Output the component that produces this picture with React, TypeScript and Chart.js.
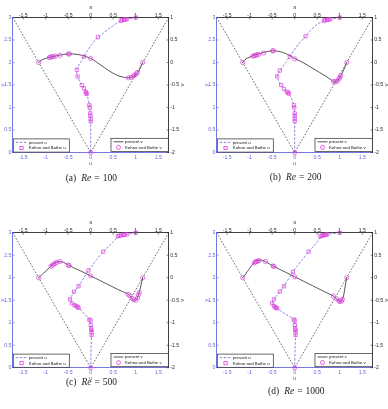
import React, { useEffect, useRef } from 'react';
import { Chart, registerables } from 'chart.js';

Chart.register(...registerables);

const SQ3 = Math.sqrt(3);

// Cavity walls: apex at the origin, lid at y = 3
const wallX = [-SQ3, 0, SQ3];
const wallY = [3, 0, 3];

const xTicks = [-1.5, -1, -0.5, 0, 0.5, 1, 1.5];
const yTicks = [0, 0.5, 1, 1.5, 2, 2.5, 3];
const vTicks = [-2, -1.5, -1, -0.5, 0, 0.5, 1];

// ---- Re = 100 ----
const u100Y = [3.0, 2.95, 2.9, 2.77, 2.65, 2.56, 2.4, 2.25, 2.13, 2.0, 1.84, 1.69, 1.5, 1.43, 1.33, 1.2, 1.05, 0.87, 0.7, 0.4, 0];
const u100 = [1.0, 0.75, 0.62, 0.43, 0.28, 0.16, 0.02, -0.08, -0.15, -0.23, -0.31, -0.29, -0.2, -0.15, -0.1, -0.06, -0.03, -0.01, 0, 0, 0];
const kbU100Y = [3.0, 2.96, 2.955, 2.95, 2.94, 2.93, 2.56, 2.13, 1.84, 1.69, 1.5, 1.43, 1.35, 1.32, 1.3, 1.05, 1.0, 0.87, 0.82, 0.75, 0.69, 0];
const kbU100 = [1.0, 0.8, 0.77, 0.74, 0.7, 0.67, 0.16, -0.15, -0.31, -0.29, -0.2, -0.15, -0.11, -0.1, -0.09, -0.03, -0.02, -0.01, -0.01, 0, 0, 0];
const v100X = [-1.155, -1.1, -1.0, -0.9, -0.8, -0.7, -0.6, -0.5, -0.4, -0.3, -0.2, -0.1, 0, 0.1, 0.2, 0.3, 0.4, 0.5, 0.6, 0.7, 0.8, 0.9, 1.0, 1.05, 1.1, 1.155];
const v100 = [0, 0.05, 0.09, 0.12, 0.14, 0.16, 0.18, 0.19, 0.19, 0.18, 0.16, 0.13, 0.09, 0.03, -0.04, -0.11, -0.18, -0.24, -0.29, -0.32, -0.34, -0.33, -0.27, -0.21, -0.13, 0];
const kbV100X = [-1.155, -0.92, -0.89, -0.86, -0.83, -0.78, -0.68, -0.5, -0.47, 0, 0.84, 0.9, 0.95, 0.98, 1.01, 1.04, 1.155];
const kbV100 = [0, 0.11, 0.12, 0.13, 0.13, 0.14, 0.16, 0.19, 0.19, 0.09, -0.34, -0.33, -0.3, -0.28, -0.25, -0.22, 0];

// ---- Re = 200 ----
const u200Y = [3.0, 2.96, 2.93, 2.85, 2.72, 2.58, 2.4, 2.25, 2.13, 2.0, 1.82, 1.69, 1.58, 1.5, 1.41, 1.33, 1.2, 1.05, 0.87, 0.7, 0.4, 0];
const u200 = [1.0, 0.79, 0.65, 0.5, 0.36, 0.24, 0.08, -0.03, -0.11, -0.2, -0.33, -0.39, -0.35, -0.3, -0.24, -0.16, -0.07, -0.02, 0, 0, 0, 0];
const kbU200Y = [3.0, 2.96, 2.955, 2.95, 2.94, 2.93, 2.58, 2.13, 1.82, 1.69, 1.5, 1.41, 1.35, 1.33, 1.31, 1.05, 1.0, 0.87, 0.82, 0.75, 0.69, 0];
const kbU200 = [1.0, 0.79, 0.75, 0.72, 0.68, 0.65, 0.24, -0.11, -0.33, -0.39, -0.3, -0.24, -0.17, -0.15, -0.13, -0.02, -0.01, 0, 0, 0, 0, 0];
const v200X = [-1.155, -1.1, -1.0, -0.9, -0.8, -0.7, -0.6, -0.5, -0.4, -0.3, -0.2, -0.1, 0, 0.1, 0.2, 0.3, 0.4, 0.5, 0.6, 0.7, 0.8, 0.88, 0.95, 1.0, 1.05, 1.1, 1.155];
const v200 = [0, 0.07, 0.12, 0.16, 0.19, 0.22, 0.245, 0.26, 0.255, 0.235, 0.2, 0.15, 0.09, 0.04, -0.01, -0.07, -0.13, -0.19, -0.25, -0.31, -0.38, -0.43, -0.41, -0.33, -0.24, -0.14, 0];
const kbV200X = [-1.155, -0.93, -0.9, -0.87, -0.84, -0.8, -0.69, -0.49, -0.47, 0, 0.86, 0.9, 0.94, 0.98, 1.0, 1.02, 1.155];
const kbV200 = [0, 0.14, 0.15, 0.16, 0.17, 0.18, 0.21, 0.26, 0.26, 0.08, -0.42, -0.43, -0.42, -0.37, -0.33, -0.29, 0];

// ---- Re = 500 ----
const u500Y = [3.0, 2.96, 2.92, 2.8, 2.7, 2.58, 2.4, 2.25, 2.16, 2.0, 1.81, 1.69, 1.6, 1.52, 1.43, 1.37, 1.33, 1.2, 1.07, 0.95, 0.84, 0.73, 0.5, 0];
const u500 = [1.0, 0.8, 0.64, 0.5, 0.4, 0.28, 0.13, 0.02, -0.05, -0.15, -0.27, -0.37, -0.42, -0.46, -0.42, -0.32, -0.27, -0.14, -0.03, 0, 0.015, 0.02, 0.01, 0];
const kbU500Y = [3.0, 2.96, 2.955, 2.95, 2.94, 2.93, 2.92, 2.58, 2.16, 1.81, 1.69, 1.52, 1.43, 1.39, 1.37, 1.35, 1.33, 1.07, 1.05, 0.95, 0.88, 0.84, 0.79, 0.73, 0];
const kbU500 = [1.0, 0.8, 0.75, 0.72, 0.67, 0.63, 0.6, 0.28, -0.05, -0.27, -0.37, -0.46, -0.42, -0.36, -0.32, -0.29, -0.27, -0.03, 0, 0, 0.01, 0.015, 0.02, 0.02, 0];
const v500X = [-1.155, -1.1, -1.0, -0.9, -0.8, -0.7, -0.6, -0.5, -0.4, -0.2, 0, 0.2, 0.4, 0.6, 0.8, 0.87, 0.92, 0.97, 1.02, 1.06, 1.1, 1.155];
const v500 = [0, 0.05, 0.145, 0.24, 0.32, 0.36, 0.34, 0.285, 0.23, 0.14, 0.04, -0.06, -0.16, -0.26, -0.35, -0.4, -0.47, -0.5, -0.48, -0.38, -0.24, 0];
const kbV500X = [-1.155, -0.88, -0.85, -0.82, -0.79, -0.75, -0.68, -0.5, -0.48, 0, 0.83, 0.87, 0.92, 0.96, 1.0, 1.04, 1.06, 1.08, 1.155];
const kbV500 = [0, 0.25, 0.28, 0.3, 0.32, 0.34, 0.36, 0.28, 0.27, 0.04, -0.37, -0.4, -0.46, -0.49, -0.5, -0.45, -0.38, -0.33, 0];

// ---- Re = 1000 ----
const u1000Y = [3.0, 2.96, 2.92, 2.8, 2.7, 2.58, 2.4, 2.25, 2.13, 2.0, 1.81, 1.69, 1.6, 1.52, 1.43, 1.37, 1.32, 1.2, 1.07, 0.95, 0.84, 0.73, 0.5, 0];
const u1000 = [1.0, 0.72, 0.6, 0.5, 0.42, 0.31, 0.17, 0.05, -0.04, -0.12, -0.24, -0.33, -0.4, -0.46, -0.5, -0.46, -0.39, -0.22, -0.02, 0.005, 0.015, 0.02, 0.01, 0];
const kbU1000Y = [3.0, 2.96, 2.955, 2.95, 2.94, 2.93, 2.92, 2.58, 2.13, 1.81, 1.69, 1.52, 1.43, 1.37, 1.34, 1.33, 1.32, 1.07, 1.05, 0.95, 0.88, 0.84, 0.79, 0.73, 0];
const kbU1000 = [1.0, 0.72, 0.69, 0.66, 0.62, 0.6, 0.57, 0.31, -0.04, -0.24, -0.33, -0.46, -0.5, -0.46, -0.43, -0.41, -0.39, -0.02, 0, 0.005, 0.01, 0.015, 0.02, 0.02, 0];
const v1000X = [-1.155, -1.1, -1.0, -0.95, -0.9, -0.85, -0.77, -0.7, -0.6, -0.48, -0.2, 0, 0.2, 0.4, 0.6, 0.86, 0.92, 0.97, 1.01, 1.05, 1.09, 1.12, 1.155];
const v1000 = [0, 0.07, 0.21, 0.28, 0.33, 0.37, 0.39, 0.38, 0.33, 0.26, 0.12, 0.02, -0.08, -0.18, -0.28, -0.41, -0.47, -0.51, -0.53, -0.5, -0.38, -0.2, 0];
const kbV1000X = [-1.155, -0.9, -0.87, -0.85, -0.82, -0.79, -0.65, -0.48, -0.46, 0, 0.86, 0.93, 0.98, 1.01, 1.04, 1.06, 1.155];
const kbV1000 = [0, 0.33, 0.35, 0.36, 0.37, 0.38, 0.36, 0.26, 0.25, 0.02, -0.41, -0.47, -0.51, -0.53, -0.52, -0.48, 0];

const BLUE = '#6868dc';
const MAGENTA = '#e03ae0';
const DARK = '#2a2a2a';
const SANS = '"Liberation Sans", Arial, sans-serif';
const SERIF = '"Liberation Serif", "Times New Roman", serif';

const W = 184;
const H = 178;
const PLOT_W = 156;
const PLOT_H = 135;

type Spec = {
  tag: string;
  re: string;
  uY: number[]; u: number[];
  kbUY: number[]; kbU: number[];
  vX: number[]; v: number[];
  kbVX: number[]; kbV: number[];
  left: number; top: number;
  padLeft: number; padTop: number;
  capX: number; capY: number;
};

const panels: Spec[] = [
  { tag: 'a', re: '100', uY: u100Y, u: u100, kbUY: kbU100Y, kbU: kbU100, vX: v100X, v: v100, kbVX: kbV100X, kbV: kbV100,
    left: 0, top: 0, padLeft: 12.7, padTop: 17.5, capX: 91.3, capY: 179 },
  { tag: 'b', re: '200', uY: u200Y, u: u200, kbUY: kbU200Y, kbU: kbU200, vX: v200X, v: v200, kbVX: kbV200X, kbV: kbV200,
    left: 204, top: 0, padLeft: 12.7, padTop: 17.5, capX: 295.7, capY: 177.7 },
  { tag: 'c', re: '500', uY: u500Y, u: u500, kbUY: kbU500Y, kbU: kbU500, vX: v500X, v: v500, kbVX: kbV500X, kbV: kbV500,
    left: 0, top: 215, padLeft: 12.7, padTop: 17.7, capX: 91.5, capY: 382.7 },
  { tag: 'd', re: '1000', uY: u1000Y, u: u1000, kbUY: kbU1000Y, kbU: kbU1000, vX: v1000X, v: v1000, kbVX: kbV1000X, kbV: kbV1000,
    left: 204, top: 215, padLeft: 12.7, padTop: 17.7, capX: 296.3, capY: 392.3 },
];

const pts = (xs: number[], ys: number[]) => xs.map((x, i) => ({ x, y: ys[i] }));

function drawLegend(ctx: CanvasRenderingContext2D, x: number, y: number, w: number, h: number,
  rows: { kind: string; color: string; text: string }[], sampleX: number, textX: number) {
  ctx.save();
  ctx.fillStyle = '#ffffff';
  ctx.fillRect(x, y, w, h);
  ctx.strokeStyle = DARK;
  ctx.lineWidth = 0.7;
  ctx.setLineDash([]);
  ctx.strokeRect(x, y, w, h);
  ctx.font = `4.3px ${SANS}`;
  ctx.textBaseline = 'middle';
  ctx.textAlign = 'left';
  rows.forEach((r, i) => {
    const cy = y + 3.5 + i * 5.6;
    ctx.strokeStyle = r.color;
    ctx.lineWidth = 0.8;
    if (r.kind === 'dash' || r.kind === 'solid') {
      ctx.setLineDash(r.kind === 'dash' ? [2.5, 1.5] : []);
      ctx.beginPath();
      ctx.moveTo(x + sampleX, cy);
      ctx.lineTo(x + textX - 1.5, cy);
      ctx.stroke();
      ctx.setLineDash([]);
    } else if (r.kind === 'rect') {
      const cx = (x + sampleX + x + textX - 1.5) / 2;
      ctx.strokeRect(cx - 1.6, cy - 1.6, 3.2, 3.2);
    } else {
      const cx = (x + sampleX + x + textX - 1.5) / 2;
      ctx.beginPath();
      ctx.arc(cx, cy, 2, 0, Math.PI * 2);
      ctx.stroke();
    }
    ctx.fillStyle = '#111';
    ctx.fillText(r.text, x + textX, cy + 0.2);
  });
  ctx.restore();
}

const decor = {
  id: 'decor',
  afterDraw(chart: any) {
    const { ctx, chartArea: ca, scales } = chart;
    const ds = chart.data.datasets;
    ctx.save();
    // inward tick marks
    const tick = (scale: any, vals: number[], side: string, color: string) => {
      ctx.strokeStyle = color;
      ctx.lineWidth = 0.6;
      vals.forEach((val) => {
        const p = scale.getPixelForValue(val);
        ctx.beginPath();
        if (side === 'bottom') { ctx.moveTo(p, ca.bottom); ctx.lineTo(p, ca.bottom - 2); }
        if (side === 'top') { ctx.moveTo(p, ca.top); ctx.lineTo(p, ca.top + 2); }
        if (side === 'left') { ctx.moveTo(ca.left, p); ctx.lineTo(ca.left + 2, p); }
        if (side === 'right') { ctx.moveTo(ca.right, p); ctx.lineTo(ca.right - 2, p); }
        ctx.stroke();
      });
    };
    tick(scales.x, xTicks, 'bottom', BLUE);
    tick(scales.x2, xTicks, 'top', DARK);
    tick(scales.y, yTicks, 'left', BLUE);
    tick(scales.v, vTicks, 'right', DARK);

    // axis titles
    const midX = (ca.left + ca.right) / 2;
    const midY = (ca.top + ca.bottom) / 2;
    ctx.font = `6px ${SANS}`;
    ctx.textAlign = 'center';
    ctx.textBaseline = 'middle';
    ctx.fillStyle = DARK;
    ctx.fillText('x', midX, ca.top - 10.2);
    ctx.fillStyle = BLUE;
    ctx.fillText('u', midX, ca.bottom + 10.6);
    const rot = (t: string, x: number, y: number, color: string) => {
      ctx.save();
      ctx.translate(x, y);
      ctx.rotate(-Math.PI / 2);
      ctx.fillStyle = color;
      ctx.fillText(t, 0, 0);
      ctx.restore();
    };
    rot('y', ca.left - 10, midY, BLUE);
    rot('v', ca.right + 13.5, midY, DARK);

    // legends
    drawLegend(ctx, ca.left + 0.6, ca.bottom - 13.6, 56, 13.2, [
      { kind: 'dash', color: BLUE, text: ds[1].label },
      { kind: 'rect', color: MAGENTA, text: ds[3].label },
    ], 2.5, 15.5);
    drawLegend(ctx, ca.right - 57.7, ca.bottom - 14.2, 57.3, 13.2, [
      { kind: 'solid', color: DARK, text: ds[2].label },
      { kind: 'circle', color: MAGENTA, text: ds[4].label },
    ], 2.5, 14);
    ctx.restore();
  },
};

function scaleOpts(position: string, min: number, max: number, vals: number[], color: string, size: number, pad: number) {
  const horizontal = position === 'top' || position === 'bottom';
  return {
    type: 'linear',
    position,
    min,
    max,
    display: true,
    afterBuildTicks: (s: any) => { s.ticks = vals.map((value) => ({ value })); },
    afterFit: (s: any) => { if (horizontal) s.height = size; else s.width = size; },
    grid: { display: false, drawTicks: false },
    border: { display: true, color, width: 0.9 },
    ticks: {
      display: true,
      color,
      padding: pad,
      autoSkip: false,
      maxRotation: 0,
      minRotation: 0,
      font: { family: SANS, size: 5.2 },
      callback: (val: any) => String(val),
    },
  };
}

function Panel({ spec }: { spec: Spec }) {
  const ref = useRef<HTMLCanvasElement>(null);
  useEffect(() => {
    const canvas = ref.current;
    if (!canvas) return;
    const wr = W - spec.padLeft - PLOT_W;
    const hb = H - spec.padTop - PLOT_H;
    const chart = new Chart(canvas, {
      type: 'scatter',
      data: {
        datasets: [
          {
            label: 'walls', data: pts(wallX, wallY), showLine: true, xAxisID: 'x', yAxisID: 'y',
            borderColor: DARK, borderWidth: 0.7, borderDash: [1.6, 1.6], pointRadius: 0, order: 5,
          },
          {
            label: 'present u', data: pts(spec.u, spec.uY), showLine: true, xAxisID: 'x', yAxisID: 'y',
            borderColor: BLUE, borderWidth: 0.8, borderDash: [2.5, 1.5], pointRadius: 0, tension: 0.3, order: 4,
          },
          {
            label: 'present v', data: pts(spec.vX, spec.v), showLine: true, xAxisID: 'x', yAxisID: 'v',
            borderColor: DARK, borderWidth: 0.8, pointRadius: 0, tension: 0.3, order: 3,
          },
          {
            label: 'Kohno and Bathe u', data: pts(spec.kbU, spec.kbUY), showLine: false, xAxisID: 'x', yAxisID: 'y',
            pointStyle: 'rect', pointRadius: 2.3, borderColor: MAGENTA, backgroundColor: 'rgba(0,0,0,0)',
            pointBorderWidth: 0.7, clip: false, order: 2,
          },
          {
            label: 'Kohno and Bathe v', data: pts(spec.kbVX, spec.kbV), showLine: false, xAxisID: 'x', yAxisID: 'v',
            pointStyle: 'circle', pointRadius: 2.1, borderColor: MAGENTA, backgroundColor: 'rgba(0,0,0,0)',
            pointBorderWidth: 0.7, clip: false, order: 1,
          },
        ],
      } as any,
      options: {
        responsive: false,
        animation: false,
        events: [],
        layout: { padding: 0 },
        plugins: { legend: { display: false }, tooltip: { enabled: false }, title: { display: false } },
        scales: {
          x: scaleOpts('bottom', -SQ3, SQ3, xTicks, BLUE, hb, 1.5),
          x2: scaleOpts('top', -SQ3, SQ3, xTicks, DARK, spec.padTop, -0.8),
          y: scaleOpts('left', 0, 3, yTicks, BLUE, spec.padLeft, 1.3),
          v: scaleOpts('right', -2, 1, vTicks, DARK, wr, 1.5),
        },
      } as any,
      plugins: [decor],
    });
    return () => chart.destroy();
  }, [spec]);

  return (
    <>
      <canvas
        ref={ref}
        width={W}
        height={H}
        style={{ position: 'absolute', left: spec.left, top: spec.top, width: W, height: H }}
      />
      <div
        style={{
          position: 'absolute', left: spec.capX, top: spec.capY, transform: 'translate(-50%, -50%)',
          fontFamily: SERIF, fontSize: 9.5, whiteSpace: 'nowrap', color: '#222', lineHeight: 1,
        }}
      >
        <span>({spec.tag})</span>
        <i style={{ marginLeft: 5 }}>Re</i>
        <span style={{ marginLeft: 3 }}>=</span>
        <span style={{ marginLeft: 3 }}>{spec.re}</span>
      </div>
    </>
  );
}

export default function App() {
  return (
    <div style={{ position: 'fixed', left: 0, top: 0, width: 388, height: 409, overflow: 'hidden', background: '#fff' }}>
      {panels.map((p) => (
        <Panel key={p.tag} spec={p} />
      ))}
    </div>
  );
}
